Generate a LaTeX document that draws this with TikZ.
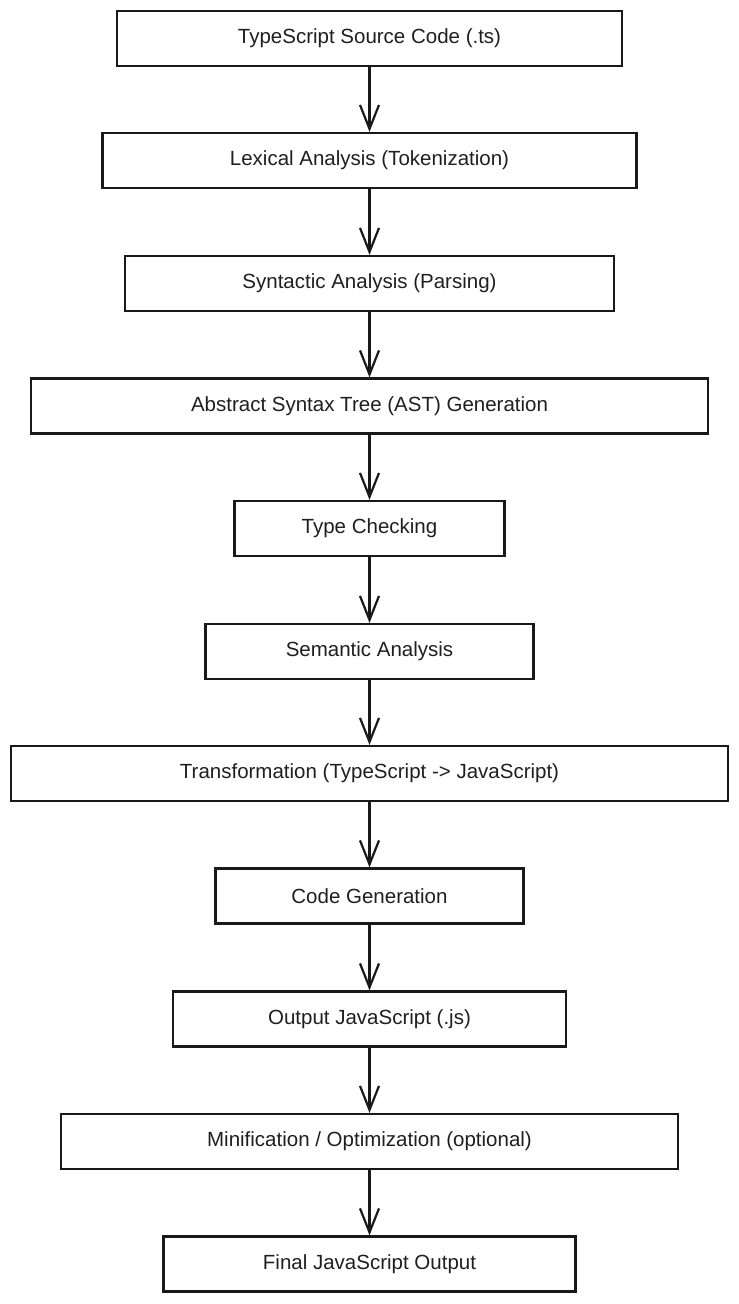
\documentclass[tikz,border=0pt]{standalone}
\usepackage{fontspec}
\setmainfont{Liberation Sans}
\usetikzlibrary{arrows.meta}
\tikzset{
  stepbox/.style={draw=black!90, line width=2.2pt, minimum height=55pt, inner sep=0pt, font=\fontsize{20.5}{22}\selectfont, text=black!88},
  flow/.style={draw=black!90, line width=2.2pt, -{Straight Barb[length=24pt,width=19pt,line width=2.2pt]}}
}
\begin{document}
\begin{tikzpicture}[x=1pt,y=1pt]
\useasboundingbox (0,0) rectangle (739,-1304);
\node[stepbox, minimum width=505pt] (b1) at (369.5,-38.5) {TypeScript Source Code (.ts)};
\node[stepbox, minimum width=534pt] (b2) at (369.5,-160.5) {Lexical Analysis (Tokenization)};
\node[stepbox, minimum width=489pt] (b3) at (369.5,-283.5) {Syntactic Analysis (Parsing)};
\node[stepbox, minimum width=677pt] (b4) at (369.5,-406) {Abstract Syntax Tree (AST) Generation};
\node[stepbox, minimum width=270pt] (b5) at (369.5,-528.5) {Type Checking};
\node[stepbox, minimum width=328pt] (b6) at (369.5,-651.5) {Semantic Analysis};
\node[stepbox, minimum width=717pt] (b7) at (369.5,-773.5) {Transformation (TypeScript -> JavaScript)};
\node[stepbox, minimum width=308pt] (b8) at (369.5,-896) {Code Generation};
\node[stepbox, minimum width=393pt] (b9) at (369.5,-1019) {Output JavaScript (.js)};
\node[stepbox, minimum width=617pt] (b10) at (369.5,-1141.5) {Minification / Optimization (optional)};
\node[stepbox, minimum width=412pt] (b11) at (369.5,-1264) {Final JavaScript Output};
\foreach \a/\b in {b1/b2,b2/b3,b3/b4,b4/b5,b5/b6,b6/b7,b7/b8,b8/b9,b9/b10,b10/b11}
  \draw[flow] (\a.south) -- (\b.north);
\end{tikzpicture}
\end{document}
